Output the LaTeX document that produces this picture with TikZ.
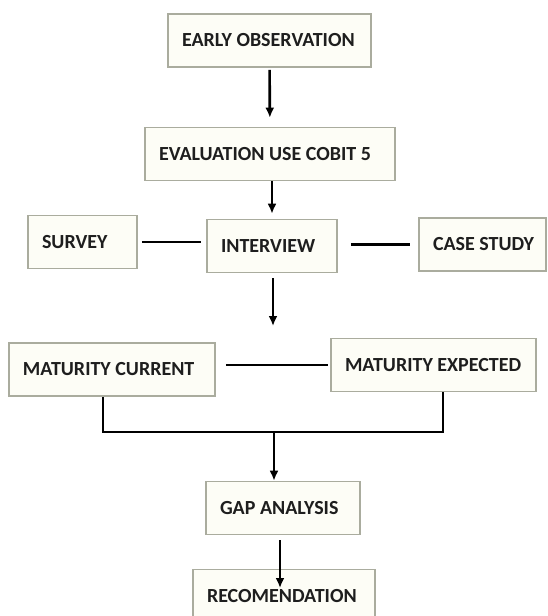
\documentclass[tikz,border=0pt]{standalone}
\usepackage{fontspec}
\setmainfont{Carlito}
\usetikzlibrary{arrows.meta}
\definecolor{boxline}{RGB}{170,172,158}
\definecolor{boxfill}{RGB}{253,253,246}
\definecolor{ink}{RGB}{30,30,30}
\tikzstyle{process}=[draw=boxline, fill=boxfill, line width=0.8pt, minimum height=26.5pt, inner xsep=0pt, align=flush left, text=ink, font=\fontsize{10}{11}\selectfont\bfseries, execute at begin node={\hspace*{7pt}}]
\tikzstyle{link}=[line width=1.3pt]
\tikzstyle{flow}=[link, -{Latex[length=5pt, width=4.5pt]}]

\begin{document}
\begin{tikzpicture}[x=0.5pt, y=-0.5pt]
      \useasboundingbox (0, 0) rectangle (547, 616);

      \node[process, text width=101.5pt] (early) at (269.5, 40.5) {EARLY OBSERVATION};
      \node[process, text width=125pt] (eval) at (270, 154) {EVALUATION USE COBIT 5};
      \node[process, text width=54.5pt] (survey) at (82.5, 242) {SURVEY};
      \node[process, text width=65pt] (interview) at (272, 246) {INTERVIEW};
      \node[process, text width=63.5pt] (case) at (482.5, 244.5) {CASE STUDY};
      \node[process, text width=103pt] (matcur) at (112, 369.5) {MATURITY CURRENT};
      \node[process, text width=102.5pt] (matexp) at (433.5, 365) {MATURITY EXPECTED};
      \node[process, text width=77pt] (gap) at (283, 508) {GAP ANALYSIS};
      \node[process, text width=91pt] (rec) at (284, 596) {RECOMENDATION};

      \coordinate (aim) at (273, 326);
      \coordinate (joinL) at (103, 432);
      \coordinate (joinM) at (274, 432);
      \coordinate (joinR) at (443, 432);
      \coordinate (recaim) at (280, 588);

      \draw[flow, shorten <=1pt, shorten >=4.5pt] (early) -- (eval);
      \draw[flow, shorten >=2.5pt] (eval.south -| interview) -- (interview);
      \draw[link, shorten <=2pt, shorten >=2.5pt] (survey.east)
        -- (survey.east -| interview.west);
      \draw[link, shorten <=6.5pt, shorten >=4pt] (case.west -| interview.east)
        -- (case.west);
      \draw[flow, shorten <=2.5pt] (interview.south -| aim) -- (aim);
      \draw[link, shorten <=5pt, shorten >=1pt] (matexp.west -| matcur.east)
        -- (matexp.west);
      \draw[link, line join=miter] (matcur.south -| joinL)
        -- (joinL) -- (joinR) -- (matexp.south -| joinR);
      \draw[flow] (joinM) -- (gap.north -| joinM);
      \draw[flow, shorten <=2.5pt] (gap.south -| recaim) -- (recaim);
    \end{tikzpicture}
\end{document}
